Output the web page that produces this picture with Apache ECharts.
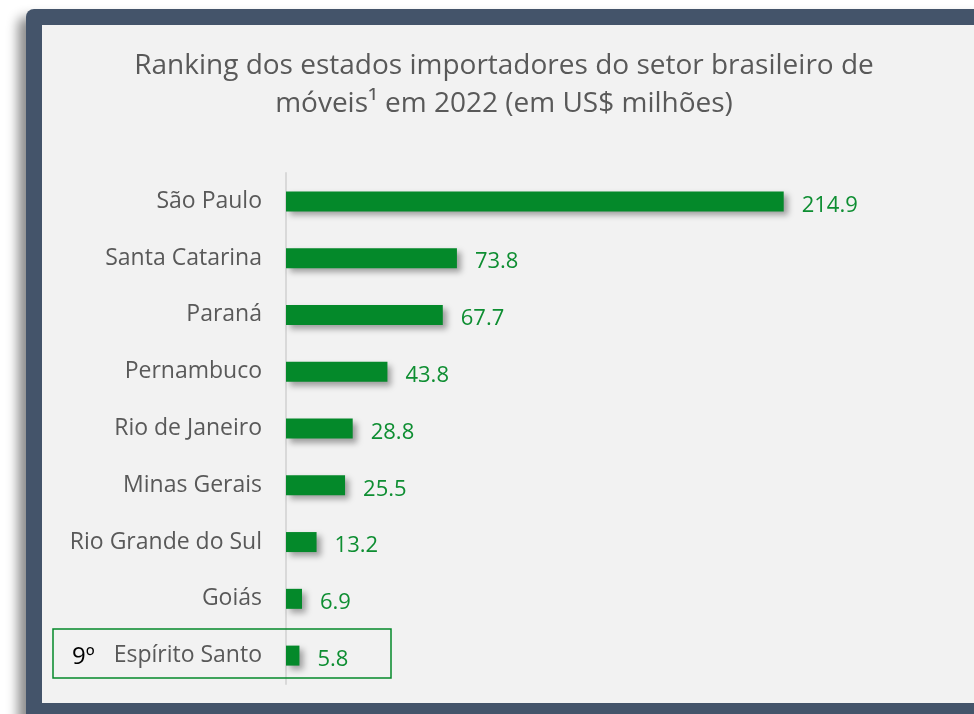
<!DOCTYPE html>
<html>
<head>
<meta charset="utf-8">
<script src="https://cdn.jsdelivr.net/npm/echarts@6/dist/echarts.min.js"></script>
<style>
  html, body { margin: 0; padding: 0; background: #fff; }
  #chart { width: 974px; height: 714px; }
</style>
</head>
<body>
<div id="chart"></div>
<script>
const estados = [
  'São Paulo',
  'Santa Catarina',
  'Paraná',
  'Pernambuco',
  'Rio de Janeiro',
  'Minas Gerais',
  'Rio Grande do Sul',
  'Goiás',
  'Espírito Santo'
]
const valores = [214.9, 73.8, 67.7, 43.8, 28.8, 25.5, 13.2, 6.9, 5.8]

const titulo = 'Ranking dos estados importadores do setor brasileiro de\nmóveis¹ em 2022 (em US$ milhões)'
const posicao = '9º'

const FONT = "'Open Sans', 'Noto Sans', sans-serif"
const VERDE = '#04892A'

const myChart = echarts.init(document.getElementById('chart'))

myChart.setOption({
  animation: false,
  backgroundColor: '#ffffff',
  textStyle: { fontFamily: FONT },
  graphic: [
    {
      type: 'rect',
      z: -10,
      shape: { x: 26, y: 9, width: 980, height: 730, r: 8 },
      style: {
        fill: '#44546A',
        shadowBlur: 12,
        shadowOffsetX: -8,
        shadowOffsetY: 8,
        shadowColor: 'rgba(0,0,0,0.45)'
      }
    },
    {
      type: 'rect',
      z: -9,
      shape: { x: 42, y: 25, width: 960, height: 678 },
      style: { fill: '#F2F2F2' }
    },
    {
      type: 'text',
      z: 10,
      style: {
        x: 504,
        y: 47,
        text: titulo,
        textAlign: 'center',
        fontFamily: FONT,
        fontSize: 28,
        lineHeight: 38,
        fill: '#595959'
      }
    },
    {
      type: 'rect',
      z: 10,
      shape: { x: 53, y: 629, width: 338, height: 49 },
      style: { fill: 'none', stroke: VERDE, lineWidth: 1.5 }
    },
    {
      type: 'text',
      z: 10,
      style: {
        x: 72,
        y: 657,
        text: posicao,
        textVerticalAlign: 'middle',
        fontFamily: FONT,
        fontSize: 24,
        fill: '#000000'
      }
    }
  ],
  grid: {
    left: 286,
    right: 109,
    top: 173,
    bottom: 30,
    containLabel: false
  },
  xAxis: {
    type: 'value',
    min: 0,
    max: 250,
    show: false,
    splitLine: { show: false }
  },
  yAxis: {
    type: 'category',
    inverse: true,
    data: estados,
    axisLine: { show: true, lineStyle: { color: '#D9D9D9', width: 2 } },
    axisTick: { show: false },
    axisLabel: {
      color: '#595959',
      fontFamily: FONT,
      fontSize: 23,
      margin: 24,
      padding: [6, 0, 0, 0]
    }
  },
  series: [
    {
      type: 'bar',
      data: valores,
      barWidth: 20,
      itemStyle: {
        color: VERDE,
        shadowBlur: 6,
        shadowOffsetX: 4,
        shadowOffsetY: 4,
        shadowColor: 'rgba(0,0,0,0.35)'
      },
      label: {
        show: true,
        position: 'right',
        distance: 18,
        offset: [0, 4],
        color: '#0E8E32',
        fontFamily: FONT,
        fontSize: 22,
        formatter: (p) => p.value.toFixed(1)
      }
    }
  ]
})
</script>
</body>
</html>
